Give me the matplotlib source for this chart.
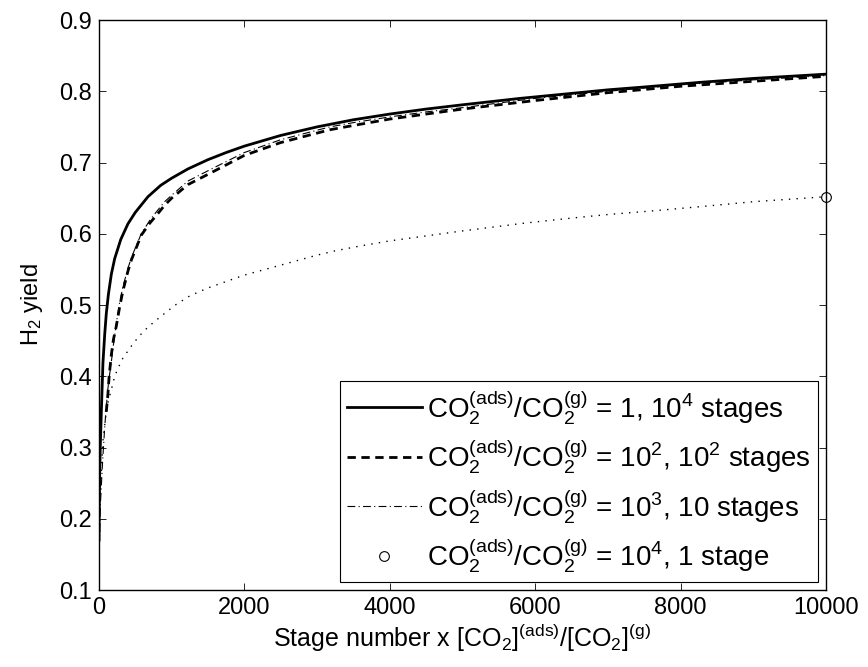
import matplotlib
matplotlib.use('Agg')
import matplotlib.pyplot as plt

plt.rcParams['font.family'] = ['Liberation Sans', 'DejaVu Sans']
plt.rcParams['mathtext.fontset'] = 'custom'
plt.rcParams['mathtext.rm'] = 'Liberation Sans'
plt.rcParams['mathtext.it'] = 'Liberation Sans'
plt.rcParams['mathtext.bf'] = 'Liberation Sans:bold'

#ratio 1, 10^4 stages
x_r1 = [1, 3, 5, 10, 18, 32, 55, 80, 101, 130, 170, 216, 300, 399, 500, 674, 850,
        1000, 1224, 1500, 1750, 2000, 2500, 3000, 3500, 4000, 4500, 5000, 5791,
        6500, 7000, 7500, 8267, 9000, 10000]
y_r1 = [0.17, 0.20, 0.22, 0.26, 0.30, 0.348, 0.419, 0.46, 0.488, 0.515, 0.543,
        0.565, 0.592, 0.614, 0.630, 0.652, 0.668, 0.678, 0.691, 0.704, 0.714,
        0.723, 0.738, 0.750, 0.760, 0.768, 0.775, 0.781, 0.790, 0.797, 0.802,
        0.806, 0.8125, 0.818, 0.824]

#ratio 10^2, 10^2 stages
x_r2 = [100, 120, 140, 170, 200, 238, 284, 330, 400, 445, 500, 582, 700, 800, 903,
        1000, 1224, 1568, 2000, 2500, 3177, 3500, 4000, 4500, 5000, 6000, 7000,
        8000, 9000, 10000]
y_r2 = [0.35, 0.37, 0.40, 0.43, 0.452, 0.47, 0.497, 0.52, 0.548, 0.563, 0.577,
        0.598, 0.615, 0.627, 0.640, 0.650, 0.669, 0.687, 0.710, 0.728, 0.746,
        0.752, 0.761, 0.768, 0.775, 0.787, 0.798, 0.807, 0.814, 0.821]

#ratio 10^3, 10 stages
x_r3 = [5, 20, 50, 80, 100, 120, 150, 170, 200, 240, 284, 330, 400, 445, 500, 582,
        700, 800, 903, 1000, 1224, 1568, 2000, 2500, 3177, 3500, 4000, 4500, 5000,
        6000, 7000, 8000, 9000, 10000]
y_r3 = [0.16, 0.22, 0.28, 0.33, 0.355, 0.38, 0.405, 0.42, 0.445, 0.475, 0.503,
        0.526, 0.552, 0.566, 0.580, 0.600, 0.619, 0.632, 0.645, 0.654, 0.674,
        0.692, 0.714, 0.732, 0.750, 0.756, 0.764, 0.771, 0.777, 0.790, 0.800,
        0.809, 0.816, 0.822]

#ratio 10^4, 1 stage
x_r4 = [5, 20, 55, 100, 130, 170, 216, 270, 330, 450, 550, 633, 743, 900, 1050,
        1252, 1500, 1750, 2000, 2500, 3000, 3246, 3600, 4000, 4500, 5000, 5860,
        6500, 7000, 7600, 8267, 9000, 10000]
y_r4 = [0.16, 0.24, 0.31, 0.35, 0.366, 0.381, 0.40, 0.413, 0.4256, 0.443, 0.456,
        0.465, 0.475, 0.488, 0.500, 0.513, 0.524, 0.533, 0.542, 0.556, 0.570,
        0.576, 0.583, 0.590, 0.597, 0.604, 0.615, 0.622, 0.627, 0.632, 0.638,
        0.645, 0.652]
x_end = [x_r4[-1]]
y_end = [y_r4[-1]]

lbl1 = r'CO$_2^{(ads)}$/CO$_2^{(g)}$ = 1, 10$^4$ stages'
lbl2 = r'CO$_2^{(ads)}$/CO$_2^{(g)}$ = 10$^2$, 10$^2$ stages'
lbl3 = r'CO$_2^{(ads)}$/CO$_2^{(g)}$ = 10$^3$, 10 stages'
lbl4 = r'CO$_2^{(ads)}$/CO$_2^{(g)}$ = 10$^4$, 1 stage'

fig = plt.figure(figsize=(8.68, 6.67), dpi=100)
ax = fig.add_axes([0.114, 0.1154, 0.8376, 0.8546])

ax.plot(x_r1, y_r1, 'k-', lw=2.0, label=lbl1)
ax.plot(x_r2, y_r2, 'k', lw=2.0, ls=(0, (3, 2)), label=lbl2)
ax.plot(x_r3, y_r3, 'k', lw=0.8, ls=(0, (7, 3, 1, 3)), label=lbl3)
ax.plot(x_r4, y_r4, 'k', lw=1.0, ls=(0, (1, 4.5)))
ax.plot(x_end, y_end, 'ko', mfc='none', ms=7, mew=0.8, label=lbl4, clip_on=False)

ax.set_xlim(0, 10000)
ax.set_ylim(0.1, 0.9)
ax.set_xticks([0, 2000, 4000, 6000, 8000, 10000])
ax.set_yticks([0.1, 0.2, 0.3, 0.4, 0.5, 0.6, 0.7, 0.8, 0.9])
ax.set_yticklabels(['0.1', '0.2', '0.3', '0.4', '0.5', '0.6', '0.7', '0.8', '0.9'])
ax.tick_params(direction='in', top=True, right=True, length=5, width=0.6,
               labelsize=17, pad=5)
for s in ax.spines.values():
    s.set_linewidth(1.0)

ax.set_xlabel(r'Stage number x [CO$_2$]$^{(ads)}$/[CO$_2$]$^{(g)}$', fontsize=18, labelpad=2)
ax.set_ylabel(r'H$_2$ yield', fontsize=17, labelpad=10)

leg = ax.legend(loc='lower right', bbox_to_anchor=(0.989, 0.014), borderaxespad=0,
                fontsize=20, fancybox=False, edgecolor='k', framealpha=1,
                handlelength=2.7, handletextpad=0.2, labelspacing=0.38,
                borderpad=0.25)
leg.get_frame().set_linewidth(0.8)

plt.savefig('out.png', dpi=100)
